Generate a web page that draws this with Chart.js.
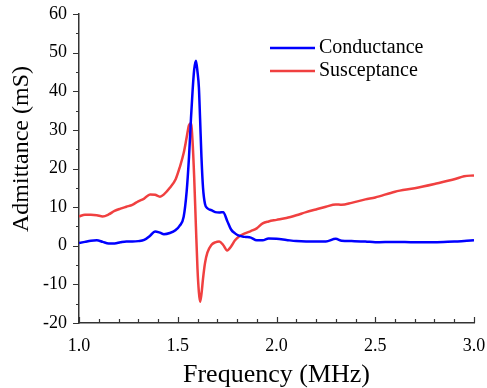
<!DOCTYPE html>
<html>
<head>
<meta charset="utf-8">
<script src="https://cdn.jsdelivr.net/npm/chart.js@4/dist/chart.umd.min.js"></script>
<style>
  body { margin: 0; background: #fff; }
  canvas { display: block; }
</style>
</head>
<body>
<canvas id="admittance" width="487" height="388"></canvas>
<script>
// Frequency points (MHz), shared by both series
const freq = [1.00, 1.03, 1.06, 1.09, 1.12, 1.15, 1.18, 1.21, 1.24, 1.27, 1.30, 1.33, 1.36, 1.385, 1.41, 1.43, 1.46, 1.49, 1.51,
    1.53, 1.545, 1.557, 1.567, 1.575, 1.583, 1.592, 1.600, 1.607, 1.613, 1.620, 1.628, 1.638, 1.65, 1.67, 1.69, 1.71, 1.73,
    1.75, 1.77, 1.79, 1.81, 1.84, 1.87, 1.90, 1.93, 1.96, 2.00, 2.05, 2.10, 2.15, 2.20, 2.25, 2.30, 2.33, 2.38, 2.45, 2.50,
    2.60, 2.70, 2.80, 2.90, 2.95, 3.00];

// Conductance (mS)
const conductance = [0.7, 1.0, 1.3, 1.4, 1.0, 0.6, 0.6, 0.9, 1.1, 1.1, 1.2, 1.5, 2.6, 3.7, 3.4, 3.0, 3.3, 4.1, 5.2,
    7.5, 14, 23, 33, 40, 45.5, 47.9, 45, 41, 33, 23, 15, 10.8, 9.7, 9.2, 8.7, 8.6, 8.7,
    6.5, 4.2, 3.2, 2.6, 2.3, 2.1, 1.4, 1.4, 1.9, 1.8, 1.5, 1.2, 1.1, 1.1, 1.1, 1.8, 1.3, 1.2, 1.1, 0.9,
    1.0, 0.9, 0.9, 1.1, 1.2, 1.4];

// Susceptance (mS)
const susceptance = [7.6, 8.0, 8.0, 7.9, 7.6, 8.1, 9.0, 9.6, 10.1, 10.6, 11.5, 12.2, 13.3, 13.2, 12.7, 13.3, 15.0, 17.3, 20.3,
    24.0, 28.0, 31.2, 31.7, 27, 18, 5, -6, -12, -14.5, -12.5, -8.5, -4.5, -1.8, 0.2, 0.9, 1.1, 0.2,
    -1.2, -0.2, 1.4, 2.4, 3.2, 3.8, 4.5, 5.8, 6.3, 6.7, 7.2, 7.9, 8.7, 9.4, 10.1, 10.7, 10.6, 11.1, 12.0, 12.5,
    14.0, 14.9, 16.0, 17.2, 18.0, 18.2];

const seriesNames = ['Conductance', 'Susceptance'];
const seriesColors = ['#0000ff', '#f04040'];

const xTicks = [1.0, 1.5, 2.0, 2.5, 3.0];
const yTicks = [-20, -10, 0, 10, 20, 30, 40, 50, 60];

const FONT = '"Liberation Serif", "Times New Roman", serif';
const AXIS_COLOR = '#333';

function toPoints(values) {
    return freq.map((f, i) => ({ x: f, y: values[i] }));
}

// ticks (major + minor), y title and legend drawn by hand
const decorations = {
    id: 'decorations',
    afterDraw(chart) {
        const ctx = chart.ctx;
        const xs = chart.scales.x;
        const ys = chart.scales.y;
        const area = chart.chartArea;

        ctx.save();
        ctx.strokeStyle = AXIS_COLOR;
        ctx.lineWidth = 1.2;
        ctx.beginPath();
        // x ticks point inward
        for (let i = 0; i <= 20; i++) {
            const v = 1 + i * 0.1;
            const px = Math.round(xs.getPixelForValue(v)) + 0.5;
            const len = (i % 5 === 0) ? 6 : 4;
            ctx.moveTo(px, area.bottom);
            ctx.lineTo(px, area.bottom - len);
        }
        // y ticks point outward
        for (let v = -20; v <= 60; v += 5) {
            const py = Math.round(ys.getPixelForValue(v)) + 0.5;
            const len = (v % 10 === 0) ? 6 : 3;
            ctx.moveTo(area.left, py);
            ctx.lineTo(area.left - len, py);
        }
        ctx.stroke();

        // y axis title
        ctx.fillStyle = '#000';
        ctx.font = '24px ' + FONT;
        ctx.textAlign = 'center';
        ctx.textBaseline = 'middle';
        ctx.translate(22, 149);
        ctx.rotate(-Math.PI / 2);
        ctx.fillText('Admittance (mS)', 0, 0);
        ctx.restore();

        // legend
        ctx.save();
        ctx.font = '20px ' + FONT;
        ctx.textAlign = 'left';
        ctx.textBaseline = 'middle';
        chart.data.datasets.forEach((ds, i) => {
            const y = 48 + i * 23;
            ctx.strokeStyle = ds.borderColor;
            ctx.lineWidth = 2.5;
            ctx.beginPath();
            ctx.moveTo(270, y);
            ctx.lineTo(315, y);
            ctx.stroke();
            ctx.fillStyle = '#000';
            ctx.fillText(ds.label, 319, y);
        });
        ctx.restore();
    }
};

const ctx = document.getElementById('admittance').getContext('2d');
new Chart(ctx, {
    type: 'line',
    data: {
        datasets: [
            {
                label: seriesNames[0],
                data: toPoints(conductance),
                borderColor: seriesColors[0],
                borderWidth: 2.5,
                pointRadius: 0,
                cubicInterpolationMode: 'monotone',
                fill: false
            },
            {
                label: seriesNames[1],
                data: toPoints(susceptance),
                borderColor: seriesColors[1],
                borderWidth: 2.5,
                pointRadius: 0,
                cubicInterpolationMode: 'monotone',
                fill: false
            }
        ]
    },
    options: {
        responsive: false,
        animation: false,
        devicePixelRatio: 1,
        layout: {
            padding: { top: 14, right: 13, left: 0, bottom: 0 }
        },
        plugins: {
            legend: { display: false },
            tooltip: { enabled: false }
        },
        scales: {
            x: {
                type: 'linear',
                min: 1,
                max: 3,
                afterBuildTicks: (scale) => {
                    scale.ticks = xTicks.map(v => ({ value: v }));
                },
                afterFit: (scale) => {
                    scale.height = 65;
                    scale.paddingLeft = 0;
                    scale.paddingRight = 0;
                },
                grid: { display: false, drawTicks: false },
                border: { display: true, color: AXIS_COLOR, width: 1.5 },
                ticks: {
                    padding: 12,
                    color: '#000',
                    font: { family: FONT, size: 18 },
                    maxRotation: 0,
                    callback: (v) => Number(v).toFixed(1)
                },
                title: {
                    display: true,
                    text: 'Frequency (MHz)',
                    color: '#000',
                    font: { family: FONT, size: 26 },
                    padding: { top: 0, bottom: -3 }
                }
            },
            y: {
                min: -20,
                max: 60,
                afterBuildTicks: (scale) => {
                    scale.ticks = yTicks.map(v => ({ value: v }));
                },
                afterFit: (scale) => {
                    scale.width = 79;
                    scale.paddingTop = 0;
                    scale.paddingBottom = 0;
                },
                grid: { display: false, drawTicks: false },
                border: { display: true, color: AXIS_COLOR, width: 1.5 },
                ticks: {
                    padding: 12,
                    color: '#000',
                    font: { family: FONT, size: 18 }
                }
            }
        }
    },
    plugins: [decorations]
});
</script>
</body>
</html>
